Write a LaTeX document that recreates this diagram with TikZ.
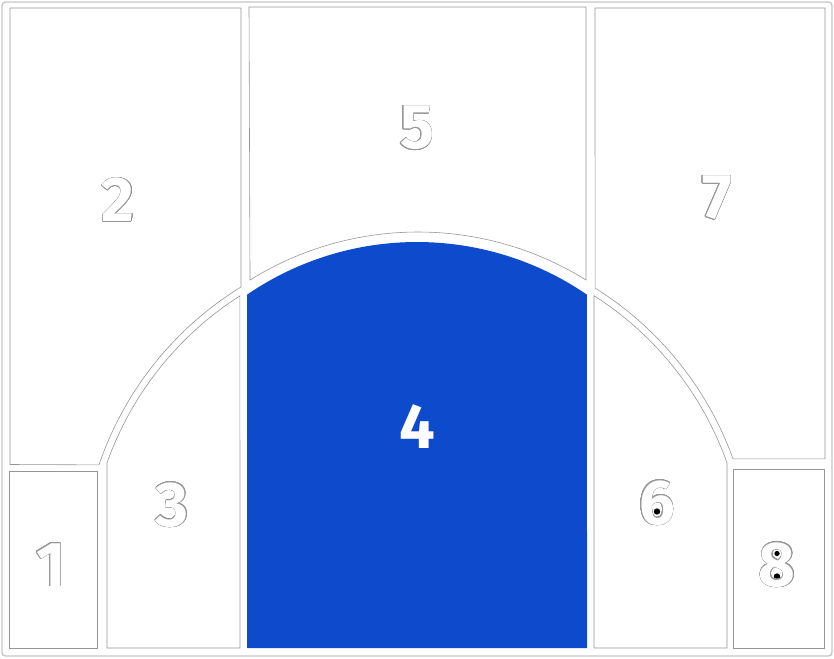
\documentclass[tikz,border=0pt]{standalone}
\usepackage{fontspec}
\usepackage{contour}
\newfontfamily\zonefont{Fira Sans}
\definecolor{zoneblue}{RGB}{14,74,204}
\definecolor{zoneline}{RGB}{150,150,150}
\contourlength{0.45pt}
\contournumber{24}

\begin{document}
\begin{tikzpicture}[
        x=0.03cm, y=0.03cm,
        zone/.style={draw=zoneline, line width=0.5pt, fill=white},
        hotzone/.style={fill=zoneblue},
        zonenum/.style={font=\zonefont\bfseries\fontsize{54}{54}\selectfont, inner sep=0pt},
        blot/.style={fill=black}
    ]
    \useasboundingbox (0,0) rectangle (834,658);
    \draw[gray!45, line width=1.2pt, rounded corners=3pt] (2,2) rectangle (832,656);

    % left side
    \draw[zone] (10,650) -- (241,650) -- (241,371) arc[start angle=121.6, end angle=161.2, radius=336] -- (10,193.5) -- cycle;
    \draw[zone] (9,10) rectangle (97,187);
    \draw[zone] (107,10) -- (107,195.2) arc[start angle=160.4, end angle=122.55, radius=329] -- (240,10) -- cycle;

    % middle
    \draw[zone] (249,651) -- (586,651) -- (586,378) arc[start angle=58.11, end angle=121.89, radius=318] -- cycle;
    \fill[hotzone] (247,10) -- (247,363.3) arc[start angle=124.44, end angle=55.56, radius=300.6] -- (587,10) -- cycle;

    % right side
    \draw[zone] (595,650) -- (825,650) -- (825,199.2) -- (733,199.2) arc[start angle=19.87, end angle=58.0, radius=336] -- cycle;
    \draw[zone] (594,10) -- (594,362.3) arc[start angle=57.45, end angle=19.57, radius=329] -- (727,10) -- cycle;
    \draw[zone] (733,10) rectangle (824,189);

    % dark blots in the counters of 6 and 8
    \fill[blot] (657,146.5) circle[radius=3.2];
    \fill[blot] (777,104.5) circle[radius=2.6];
    \fill[blot] (777,81.5) circle[radius=3.2];

    \node[zonenum] (zone_1) at (51,93) {\contour{zoneline}{\textcolor{white}{1}}};
    \node[zonenum] (zone_2) at (118,458) {\contour{zoneline}{\textcolor{white}{2}}};
    \node[zonenum] (zone_3) at (172,153) {\contour{zoneline}{\textcolor{white}{3}}};
    \node[zonenum, text=white] (zone_4) at (417,231) {4};
    \node[zonenum] (zone_5) at (417,530) {\contour{zoneline}{\textcolor{white}{5}}};
    \node[zonenum] (zone_6) at (657,155) {\contour{zoneline}{\textcolor{white}{6}}};
    \node[zonenum] (zone_7) at (717,460) {\contour{zoneline}{\textcolor{white}{7}}};
    \node[zonenum] (zone_8) at (777,93) {\contour{zoneline}{\textcolor{white}{8}}};

\end{tikzpicture}
\end{document}
